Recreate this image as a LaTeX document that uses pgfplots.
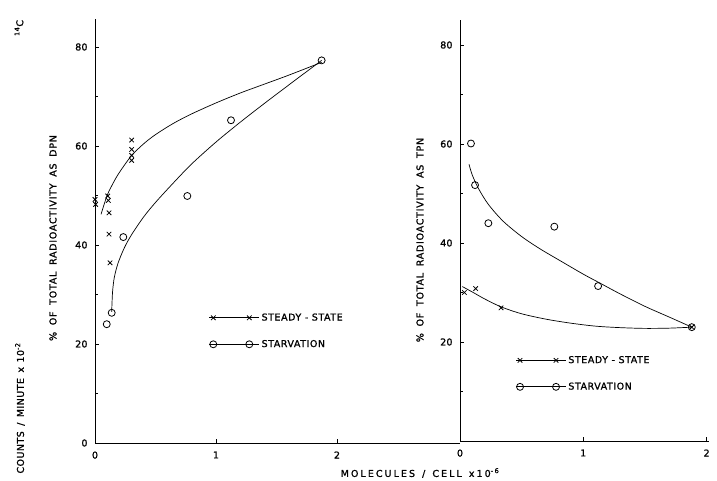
\documentclass[border=0pt]{standalone}
\usepackage{pgfplots}
\pgfplotsset{compat=1.18}
\usepackage{fontspec}
\setmainfont{DejaVu Sans}
\newfontfamily\lblfont{DejaVu Sans}[LetterSpace=6,FakeBold=1.2]
\newfontfamily\tickfont{DejaVu Sans}[LetterSpace=2,FakeBold=1.2]
\newfontfamily\widefont{DejaVu Sans}[LetterSpace=8,FakeBold=1.2]
\newfontfamily\countfont{DejaVu Sans}[LetterSpace=5,FakeBold=1.2]
\newfontfamily\xfont{DejaVu Sans}[LetterSpace=22,FakeBold=1.2]
\newcommand\lblsize{\fontsize{9.5}{11}\selectfont}
\newcommand\gap[1]{\hspace{#1}}

\begin{document}
\begin{tikzpicture}
\useasboundingbox (-95bp,-38bp) rectangle (622bp,443bp);

\pgfplotsset{
  panel/.style={
    anchor=origin, at={(0,0)},
    axis x line=bottom, axis y line=left,
    axis line style={-, line width=0.6bp},
    xmin=0, ymin=0,
    y=4.95bp,
    tick align=inside,
    major tick length=4bp, minor tick length=3bp,
    tick style={line width=0.6bp, black},
    minor ytick={10,30,50,70},
    xtick={0,1,2},
    ticklabel style={font=\tickfont\lblsize},
    /pgf/number format/assume math mode=true,
    xticklabel style={yshift=-5bp},
    yticklabel style={xshift=-4bp},
    legend style={draw=none, fill=none, inner sep=0pt, font=\lblfont\lblsize,
      row sep=14bp, cells={anchor=west}},
    legend image code/.code={%
      \path (-4bp,0bp) -- (46bp,0bp);
      \draw[mark repeat=1,#1] plot coordinates {(0bp,0bp) (36bp,0bp)};},
    clip=false,
  },
  ss/.style={black, line width=0.7bp, mark=x, mark size=3.2bp, mark options={solid, line width=0.8bp}},
  sv/.style={black, line width=0.7bp, mark=o, mark size=3.5bp, mark options={solid, line width=0.8bp}},
  fit/.style={black, line width=0.7bp, smooth, no marks, forget plot},
}

% DPN panel
\begin{axis}[panel, x=121bp, xmax=3.017, ymax=85.7, ytick={0,20,40,60,80},
  legend style={at={(axis cs:0.94,26.6)}, anchor=north west}]
\addplot[ss, only marks, forget plot] coordinates {
  (0.00,49.2) (0.005,48.2) (0.105,49.9) (0.11,49.0) (0.116,46.5)
  (0.116,42.2) (0.124,36.4) (0.303,61.2) (0.303,59.3) (0.303,58.1) (0.303,57.1)
};
\addplot[fit] coordinates {
  (0.05,46.2) (0.1,50.0) (0.15,52.5) (0.2,54.6) (0.3,58.0) (0.4,60.4)
  (0.5,62.3) (0.65,64.6) (0.8,66.5) (1.0,68.7) (1.2,70.7) (1.4,72.5)
  (1.6,74.3) (1.873,76.9)
};
\addplot[sv, only marks, forget plot] coordinates {
  (0.097,24.0) (0.138,26.3) (0.234,41.6) (0.763,49.9) (1.124,65.2) (1.873,77.3)
};
\addplot[fit] coordinates {
  (0.138,26.5) (0.145,30.5) (0.16,33.5) (0.19,36.3) (0.24,39.3) (0.3,42.0)
  (0.4,45.6) (0.5,48.6) (0.65,52.6) (0.8,56.4) (1.0,60.8) (1.2,64.8)
  (1.4,68.6) (1.6,72.3) (1.873,77.3)
};
\addlegendimage{ss}
\addlegendentry{STEADY - STATE}
\addlegendimage{sv}
\addlegendentry{STARVATION}
\end{axis}

% TPN panel
\begin{axis}[panel, at={(365bp,2bp)}, x=123.3bp, xmax=2.02, ymax=85, ytick={20,40,60,80},
  legend style={at={(axis cs:0.45,17.6)}, anchor=north west}]
\addplot[ss, only marks, forget plot] coordinates {
  (0.035,30.0) (0.127,30.8) (0.333,26.9) (1.88,23.0)
};
\addplot[fit] coordinates {
  (0.019,31.2) (0.1,30.1) (0.2,28.7) (0.333,27.1) (0.5,25.7) (0.7,24.6)
  (0.9,23.8) (1.1,23.2) (1.3,22.9) (1.5,22.75) (1.7,22.8) (1.88,23.0)
};
\addplot[sv, only marks, forget plot] coordinates {
  (0.089,60.1) (0.122,51.7) (0.23,44.0) (0.765,43.3) (1.12,31.3) (1.88,23.0)
};
\addplot[fit] coordinates {
  (0.073,55.9) (0.1,53.7) (0.15,51.0) (0.23,47.8) (0.35,44.4) (0.5,41.3)
  (0.65,38.8) (0.8,36.6) (1.0,33.7) (1.12,32.1) (1.3,29.7) (1.5,27.2)
  (1.7,25.0) (1.88,23.0)
};
\addlegendimage{ss}
\addlegendentry{STEADY - STATE}
\addlegendimage{sv}
\addlegendentry{STARVATION}
\end{axis}

\node[rotate=90, font=\widefont\lblsize] at (-42bp,205bp)
  {\%\gap{3bp} OF\gap{3bp} TOTAL\gap{3bp} RADIOACTIVITY\gap{3bp} AS\gap{3bp} DPN};
\node[rotate=90, font=\widefont\lblsize] at (325bp,203bp)
  {\%\gap{3bp} OF\gap{3bp} TOTAL\gap{3bp} RADIOACTIVITY\gap{3bp} AS\gap{3bp} TPN};
\node[rotate=90, font=\countfont\lblsize] at (-75bp,35bp)
  {COUNTS\gap{2bp} /\gap{2bp} MINUTE\gap{2bp} x\gap{1bp} 10\textsuperscript{-2}};
\node[rotate=90, font=\lblfont\lblsize] at (-76bp,415bp) {\textsuperscript{14}C};
\node[font=\xfont\lblsize] at (325bp,-30bp) {MOLECULES\gap{2bp} /\gap{2bp} CELL\gap{2bp} x10\textsuperscript{-6}};
\end{tikzpicture}
\end{document}
